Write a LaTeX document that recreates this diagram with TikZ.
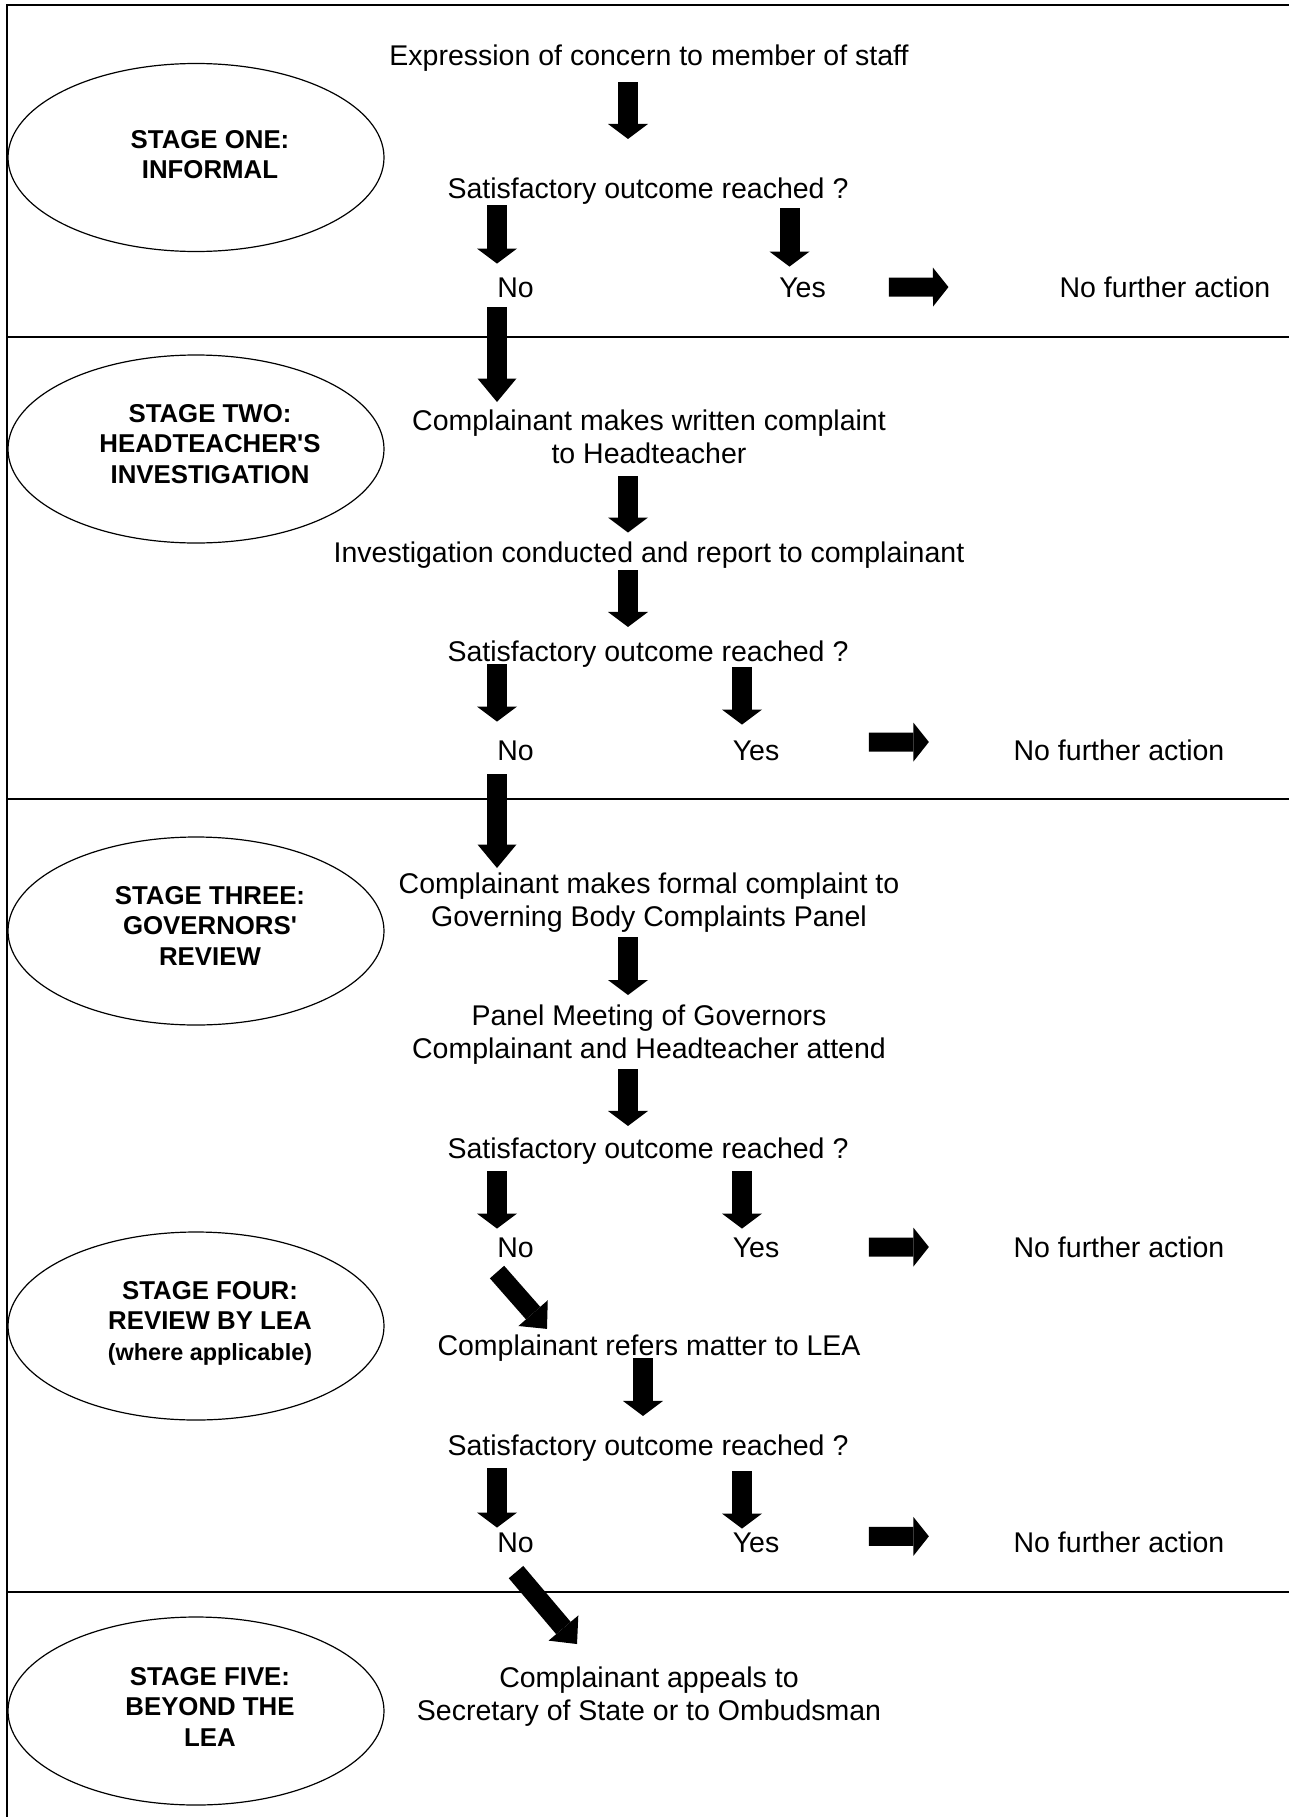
\documentclass[tikz,border=0pt]{standalone}
\usepackage{fontspec}
\setmainfont{Liberation Sans}
\usetikzlibrary{arrows.meta,shapes.geometric}
\tikzset{>=Latex,
  every node/.style={inner sep=0pt},
  divider/.style={line width=2.6pt},
  oval/.style={draw,ellipse,line width=1.2pt,minimum width=376pt,minimum height=188pt},
  txt/.style={align=center,font=\fontsize{28.5}{33}\selectfont},
  stg/.style={align=center,anchor=north,font=\fontsize{25.8}{30.7}\selectfont\bfseries}}

\begin{document}
\begin{tikzpicture}[x=1pt,y=-1pt,
  dn/.style={line width=20pt,-{Triangle[length=15pt,width=40pt,line width=0pt]}},
  big/.style={line width=20pt,-{Triangle[length=23.5pt,width=39pt,line width=0pt]}},
  rt/.style={line width=19pt,-{Triangle[length=15.5pt,width=39pt,line width=0pt]}},
  dg/.style={line width=19pt,-{Triangle[length=21pt,width=39pt,line width=0pt]}}]
\useasboundingbox (0,0) rectangle (1289,1817);
\draw[divider] (7,1817)--(7,5)--(1289,5);
\foreach \y in {337,799,1592} \draw[divider] (7,\y)--(1289,\y);
\coordinate (mid) at (628,0);\coordinate (mid4) at (643,0);
\coordinate (cno) at (497,0);\coordinate (cyes1) at (789.5,0);\coordinate (cyes) at (742,0);
\node[oval] (e1) at (196,157.5) {};\node[stg] (s1) at (210,129.8) {STAGE ONE:\\INFORMAL};
\node[oval] (e2) at (196,449) {};\node[stg] (s2) at (210,403.8) {STAGE TWO:\\HEADTEACHER\textquotesingle S\\INVESTIGATION};
\node[oval] (e3) at (196,931) {};\node[stg] (s3) at (210,885.8) {STAGE THREE:\\GOVERNORS\textquotesingle\\REVIEW};
\node[oval] (e4) at (196,1326) {};\node[stg] (s4) at (210,1280.8) {STAGE FOUR:\\REVIEW BY LEA\\{\fontsize{23.4}{30.7}\selectfont(where applicable)}};
\node[oval] (e5) at (196,1711) {};\node[stg] (s5) at (210,1666.8) {STAGE FIVE:\\BEYOND THE\\LEA};
\node[txt,anchor=base] (expr) at (649,66) {Expression of concern to member of staff};
\node[txt,anchor=base] (sat1) at (648,198) {Satisfactory outcome reached ?};
\node[txt,anchor=base] (no1) at (515.5,297) {No};\node[txt,anchor=base] (yes1) at (802.5,297) {Yes};
\node[txt,anchor=base] (nfa1) at (1165,297) {No further action};
\node[txt,anchor=north] (comp2) at (649,409.3) {Complainant makes written complaint\\to Headteacher};
\node[txt,anchor=base] (inv) at (649,562) {Investigation conducted and report to complainant};
\node[txt,anchor=base] (sat2) at (648,661) {Satisfactory outcome reached ?};
\node[txt,anchor=base] (no2) at (515.5,760) {No};\node[txt,anchor=base] (yes2) at (756,760) {Yes};
\node[txt,anchor=base] (nfa2) at (1119,760) {No further action};
\node[txt,anchor=north] (comp3) at (649,872.3) {Complainant makes formal complaint to\\Governing Body Complaints Panel};
\node[txt,anchor=north] (panel) at (649,1004.3) {Panel Meeting of Governors\\Complainant and Headteacher attend};
\node[txt,anchor=base] (sat3) at (648,1158) {Satisfactory outcome reached ?};
\node[txt,anchor=base] (no3) at (515.5,1257) {No};\node[txt,anchor=base] (yes3) at (756,1257) {Yes};
\node[txt,anchor=base] (nfa3) at (1119,1257) {No further action};
\node[txt,anchor=base] (refer) at (649,1355) {Complainant refers matter to LEA};
\node[txt,anchor=base] (sat4) at (648,1455) {Satisfactory outcome reached ?};
\node[txt,anchor=base] (no4) at (515.5,1552) {No};\node[txt,anchor=base] (yes4) at (756,1552) {Yes};
\node[txt,anchor=base] (nfa4) at (1119,1552) {No further action};
\node[txt,anchor=north] (appeal) at (649,1666.3) {Complainant appeals to\\Secretary of State or to Ombudsman};
\draw[dn,shorten <=10pt,shorten >=38.2pt] (expr.south -| mid)--(sat1.north -| mid);
\draw[dn,shorten <=1pt,shorten >=13.6pt] (sat1.south -| cno)--(no1.north -| cno);
\draw[dn,shorten <=4pt,shorten >=10.6pt] (sat1.south -| cyes1)--(yes1.north -| cyes1);
\draw[rt,shorten <=63pt,shorten >=111pt] (yes1.east)--(nfa1.west);
\draw[big,shorten <=9.6pt,shorten >=7.3pt] (no1.south -| cno)--(comp2.north -| cno);
\draw[dn,shorten <=12.6pt,shorten >=8.6pt] (comp2.south -| mid)--(inv.north -| mid);
\draw[dn,shorten <=2pt,shorten >=13.2pt] (inv.south -| mid)--(sat2.north -| mid);
\draw[dn,shorten <=-3pt,shorten >=18.6pt] (sat2.south -| cno)--(no2.north -| cno);
\draw[dn,shorten >=15.6pt] (sat2.south -| cyes)--(yes2.north -| cyes);
\draw[rt,shorten <=89.5pt,shorten >=84.6pt] ([yshift=8pt]yes2.east)--([yshift=8pt]nfa2.west);
\draw[big,shorten <=13.6pt,shorten >=4.3pt] (no2.south -| cno)--(comp3.north -| cno);
\draw[dn,shorten <=5pt,shorten >=9.3pt] (comp3.south -| mid)--(panel.north -| mid);
\draw[dn,shorten <=5pt,shorten >=11.2pt] (panel.south -| mid)--(sat3.north -| mid);
\draw[dn,shorten <=7pt,shorten >=8.6pt] (sat3.south -| cno)--(no3.north -| cno);
\draw[dn,shorten <=7pt,shorten >=8.6pt] (sat3.south -| cyes)--(yes3.north -| cyes);
\draw[rt,shorten <=89.5pt,shorten >=84.6pt] (yes3.east)--(nfa3.west);
\draw[dg,shorten <=19.4pt,shorten >=7pt] ([xshift=-31.3pt]no3.south)--([xshift=-97.4pt]refer.north);
\draw[dn,shorten <=-3pt,shorten >=18.2pt] (refer.south -| mid4)--(sat4.north -| mid4);
\draw[dn,shorten <=7pt,shorten >=4.6pt] (sat4.south -| cno)--(no4.north -| cno);
\draw[dn,shorten <=10pt,shorten >=3.6pt] (sat4.south -| cyes)--(yes4.north -| cyes);
\draw[rt,shorten <=89.5pt,shorten >=84.6pt] ([yshift=5.7pt]yes4.east)--([yshift=5.7pt]nfa4.west);
\draw[dg,shorten <=25.7pt,shorten >=29.2pt] ([xshift=-16.1pt]no4.south)--([xshift=-53.1pt]appeal.north);
\end{tikzpicture}
\end{document}
